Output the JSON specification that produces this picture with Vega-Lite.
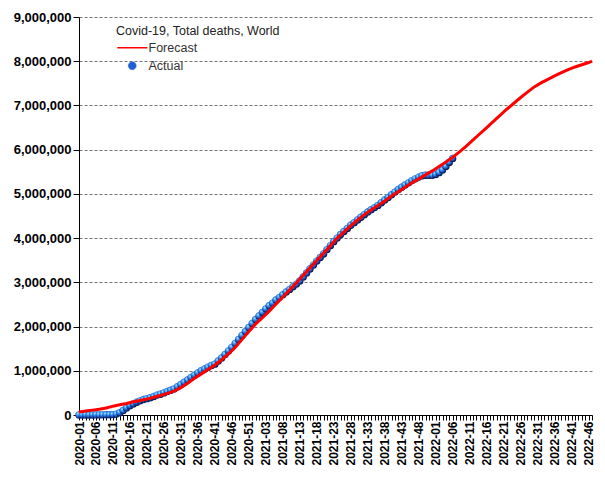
{
  "$schema": "https://vega.github.io/schema/vega-lite/v6.json",
  "width": 513,
  "height": 398,
  "autosize": {"type": "none"},
  "padding": {"left": 79, "top": 17, "right": 13, "bottom": 65},
  "background": "white",
  "config": {"view": {"stroke": null}},
  "datasets": {
    "actual": [
      {"w":0,"v":0},{"w":1,"v":0},{"w":2,"v":0},{"w":3,"v":0},{"w":4,"v":1000},{"w":5,"v":2000},{"w":6,"v":2000},{"w":7,"v":3000},{"w":8,"v":4000},{"w":9,"v":5000},
      {"w":10,"v":8000},{"w":11,"v":20000},{"w":12,"v":50000},{"w":13,"v":100000},{"w":14,"v":160000},{"w":15,"v":210000},{"w":16,"v":250000},{"w":17,"v":290000},{"w":18,"v":320000},{"w":19,"v":350000},
      {"w":20,"v":370000},{"w":21,"v":390000},{"w":22,"v":420000},{"w":23,"v":450000},{"w":24,"v":470000},{"w":25,"v":500000},{"w":26,"v":530000},{"w":27,"v":560000},{"w":28,"v":590000},{"w":29,"v":640000},
      {"w":30,"v":690000},{"w":31,"v":740000},{"w":32,"v":790000},{"w":33,"v":850000},{"w":34,"v":900000},{"w":35,"v":950000},{"w":36,"v":1000000},{"w":37,"v":1040000},{"w":38,"v":1080000},{"w":39,"v":1120000},
      {"w":40,"v":1150000},{"w":41,"v":1220000},{"w":42,"v":1290000},{"w":43,"v":1370000},{"w":44,"v":1450000},{"w":45,"v":1530000},{"w":46,"v":1620000},{"w":47,"v":1710000},{"w":48,"v":1800000},{"w":49,"v":1890000},
      {"w":50,"v":1980000},{"w":51,"v":2070000},{"w":52,"v":2160000},{"w":53,"v":2240000},{"w":54,"v":2320000},{"w":55,"v":2400000},{"w":56,"v":2470000},{"w":57,"v":2530000},{"w":58,"v":2600000},{"w":59,"v":2660000},
      {"w":60,"v":2720000},{"w":61,"v":2780000},{"w":62,"v":2840000},{"w":63,"v":2900000},{"w":64,"v":2960000},{"w":65,"v":3030000},{"w":66,"v":3120000},{"w":67,"v":3210000},{"w":68,"v":3300000},{"w":69,"v":3390000},
      {"w":70,"v":3480000},{"w":71,"v":3560000},{"w":72,"v":3640000},{"w":73,"v":3740000},{"w":74,"v":3830000},{"w":75,"v":3920000},{"w":76,"v":4000000},{"w":77,"v":4080000},{"w":78,"v":4150000},{"w":79,"v":4220000},
      {"w":80,"v":4290000},{"w":81,"v":4350000},{"w":82,"v":4410000},{"w":83,"v":4470000},{"w":84,"v":4530000},{"w":85,"v":4590000},{"w":86,"v":4640000},{"w":87,"v":4690000},{"w":88,"v":4740000},{"w":89,"v":4800000},
      {"w":90,"v":4860000},{"w":91,"v":4920000},{"w":92,"v":4980000},{"w":93,"v":5040000},{"w":94,"v":5100000},{"w":95,"v":5150000},{"w":96,"v":5200000},{"w":97,"v":5250000},{"w":98,"v":5300000},{"w":99,"v":5340000},
      {"w":100,"v":5380000},{"w":101,"v":5410000},{"w":102,"v":5420000},{"w":103,"v":5420000},{"w":104,"v":5420000},{"w":105,"v":5440000},{"w":106,"v":5480000},{"w":107,"v":5540000},{"w":108,"v":5620000},{"w":109,"v":5710000},{"w":110,"v":5800000}
    ],
    "forecast": [
      {"w":0,"v":70000},{"w":2,"v":90000},{"w":4,"v":110000},{"w":6,"v":130000},{"w":8,"v":160000},{"w":10,"v":200000},{"w":12,"v":230000},{"w":14,"v":260000},{"w":16,"v":300000},{"w":18,"v":330000},
      {"w":20,"v":360000},{"w":22,"v":400000},{"w":24,"v":440000},{"w":26,"v":490000},{"w":28,"v":540000},{"w":30,"v":620000},{"w":32,"v":720000},{"w":34,"v":830000},{"w":36,"v":930000},{"w":38,"v":1030000},
      {"w":40,"v":1130000},{"w":42,"v":1250000},{"w":44,"v":1380000},{"w":46,"v":1530000},{"w":48,"v":1710000},{"w":50,"v":1890000},{"w":52,"v":2060000},{"w":54,"v":2200000},{"w":56,"v":2350000},{"w":58,"v":2510000},
      {"w":60,"v":2670000},{"w":62,"v":2830000},{"w":64,"v":2990000},{"w":66,"v":3160000},{"w":68,"v":3330000},{"w":70,"v":3500000},{"w":72,"v":3660000},{"w":74,"v":3830000},{"w":76,"v":4000000},{"w":78,"v":4140000},
      {"w":80,"v":4280000},{"w":82,"v":4410000},{"w":84,"v":4530000},{"w":86,"v":4640000},{"w":88,"v":4740000},{"w":90,"v":4840000},{"w":92,"v":4950000},{"w":94,"v":5050000},{"w":96,"v":5150000},{"w":98,"v":5250000},
      {"w":100,"v":5340000},{"w":102,"v":5430000},{"w":104,"v":5520000},{"w":106,"v":5620000},{"w":108,"v":5720000},{"w":110,"v":5830000},{"w":112,"v":5950000},{"w":114,"v":6080000},{"w":116,"v":6220000},{"w":118,"v":6360000},
      {"w":120,"v":6500000},{"w":122,"v":6640000},{"w":124,"v":6780000},{"w":126,"v":6920000},{"w":128,"v":7050000},{"w":130,"v":7180000},{"w":132,"v":7300000},{"w":134,"v":7420000},{"w":136,"v":7510000},{"w":138,"v":7590000},
      {"w":140,"v":7670000},{"w":142,"v":7740000},{"w":144,"v":7810000},{"w":146,"v":7870000},{"w":148,"v":7920000},{"w":150,"v":7970000},{"w":151,"v":8000000}
    ]
  },
  "layer": [
    {
      "data": {"name": "actual"},
      "mark": {
        "type": "point",
        "filled": true,
        "size": 55,
        "opacity": 1,
        "fill": {
          "gradient": "radial",
          "x1": 0.35, "y1": 0.3, "r1": 0,
          "x2": 0.42, "y2": 0.38, "r2": 0.58,
          "stops": [
            {"offset": 0, "color": "#c4f2ff"},
            {"offset": 0.35, "color": "#3ca2ff"},
            {"offset": 0.75, "color": "#1a4ab8"},
            {"offset": 1, "color": "#06103f"}
          ]
        }
      },
      "encoding": {
        "x": {
          "field": "w", "type": "quantitative",
          "scale": {"domain": [0, 151], "nice": false, "zero": false},
          "axis": {
            "title": null,
            "tickCount": 400,
            "values": [0,1,2,3,4,5,6,7,8,9,10,11,12,13,14,15,16,17,18,19,20,21,22,23,24,25,26,27,28,29,30,31,32,33,34,35,36,37,38,39,40,41,42,43,44,45,46,47,48,49,50,51,52,53,54,55,56,57,58,59,60,61,62,63,64,65,66,67,68,69,70,71,72,73,74,75,76,77,78,79,80,81,82,83,84,85,86,87,88,89,90,91,92,93,94,95,96,97,98,99,100,101,102,103,104,105,106,107,108,109,110,111,112,113,114,115,116,117,118,119,120,121,122,123,124,125,126,127,128,129,130,131,132,133,134,135,136,137,138,139,140,141,142,143,144,145,146,147,148,149,150,151],
            "labelExpr": "datum.value % 5 === 0 ? (datum.value < 53 ? '2020-' + (datum.value + 1 < 10 ? '0' : '') + (datum.value + 1) : datum.value < 105 ? '2021-' + (datum.value - 52 < 10 ? '0' : '') + (datum.value - 52) : '2022-' + (datum.value - 104 < 10 ? '0' : '') + (datum.value - 104)) : ''",
            "labelAngle": 270,
            "labelAlign": "right",
            "labelBaseline": "middle",
            "labelFont": "Liberation Sans",
            "labelFontSize": 12,
            "labelFontWeight": "bold",
            "labelColor": "#000",
            "labelOverlap": false,
            "labelFlush": false,
            "labelBound": false,
            "labelPadding": 1,
            "ticks": true,
            "tickSize": 5,
            "tickWidth": 1,
            "tickColor": "#000",
            "domainColor": "#000",
            "grid": false
          }
        },
        "y": {
          "field": "v", "type": "quantitative",
          "scale": {"domain": [0, 9000000], "nice": false},
          "axis": {
            "title": null,
            "tickCount": 20,
            "values": [0,1000000,2000000,3000000,4000000,5000000,6000000,7000000,8000000,9000000],
            "format": ",d",
            "labelFont": "Liberation Sans",
            "labelFontSize": 13,
            "labelFontWeight": "bold",
            "labelColor": "#000",
            "labelPadding": 2,
            "ticks": true,
            "tickSize": 6,
            "tickWidth": 1,
            "tickColor": "#000",
            "domainColor": "#000",
            "grid": true,
            "gridColor": "#777",
            "gridDash": [3, 2],
            "gridWidth": 1
          }
        }
      }
    },
    {
      "data": {"name": "forecast"},
      "mark": {"type": "line", "strokeWidth": 3, "interpolate": "linear"},
      "encoding": {
        "x": {"field": "w", "type": "quantitative"},
        "y": {"field": "v", "type": "quantitative"},
        "color": {
          "datum": "Forecast",
          "scale": {"domain": ["Forecast", "Actual"], "range": ["#ff0000", "#2a6fd6"]},
          "legend": {
            "orient": "none",
            "legendX": 37,
            "legendY": 8,
            "padding": 0,
            "title": "Covid-19, Total deaths, World",
            "titleFont": "Liberation Sans",
            "titleFontSize": 12.5,
            "titleFontWeight": "normal",
            "titleColor": "#222",
            "titlePadding": 4,
            "labelFont": "Liberation Sans",
            "labelFontSize": 12.5,
            "labelColor": "#333",
            "labelOffset": 20,
            "symbolSize": 100,
            "rowPadding": 5,
            "encode": {
              "symbols": {
                "update": {
                  "shape": {"signal": "datum.value === 'Forecast' ? 'M-1,0H5' : 'M1.2,0A0.8,0.8,0,1,1,2.8,0A0.8,0.8,0,1,1,1.2,0Z'"},
                  "fill": {"signal": "datum.value === 'Forecast' ? 'transparent' : '#1f5fd0'"},
                  "stroke": {"signal": "datum.value === 'Forecast' ? '#ff3300' : '#0a2a80'"},
                  "strokeWidth": {"signal": "datum.value === 'Forecast' ? 1.5 : 0.5"},
                  "opacity": {"value": 1}
                }
              }
            }
          }
        }
      }
    }
  ]
}
